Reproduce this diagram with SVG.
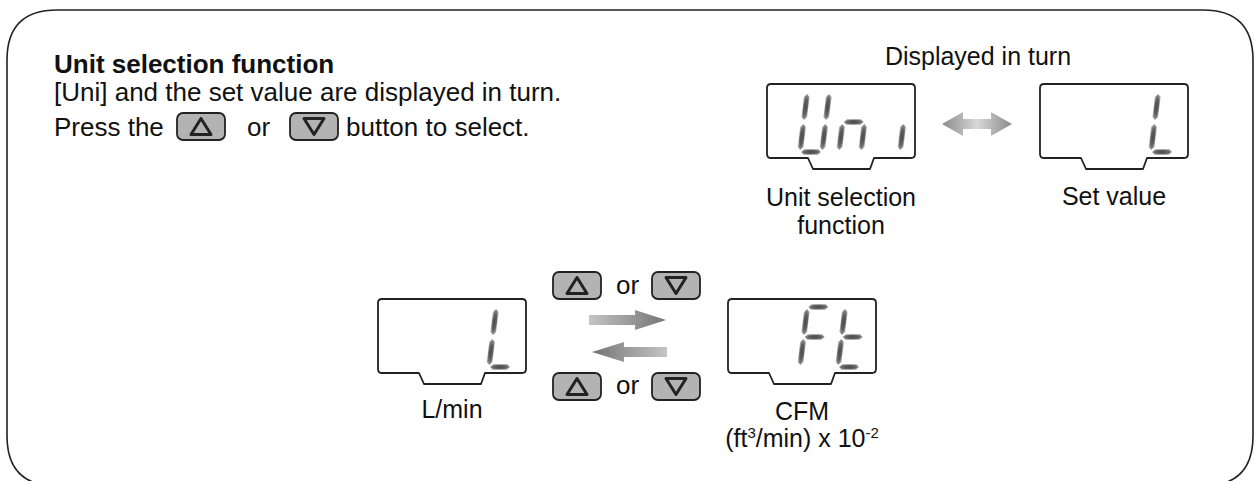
<svg xmlns="http://www.w3.org/2000/svg" width="1255" height="481" viewBox="0 0 1255 481">
<style>
text{font-family:"Liberation Sans",Arial,sans-serif;fill:#111}
.t{font-size:26px}
.b{font-weight:bold}
.lbl{font-size:25px;text-anchor:middle}
.frame{fill:none;stroke:#222;stroke-width:1.6}
.disp{fill:#fff;stroke:#222;stroke-width:1.8;stroke-linejoin:round}
.btn{fill:#b3b3b3;stroke:#222;stroke-width:1.8}
.tri{fill:none;stroke:#222;stroke-width:3;stroke-linejoin:round}
.seg{fill:url(#segG)}
</style>
<defs>
<radialGradient id="segG"><stop offset="0" stop-color="#4a4a4a"/><stop offset="0.65" stop-color="#626262"/><stop offset="1" stop-color="#9c9c9c"/></radialGradient>
<linearGradient id="dbl" x1="0" x2="1" y1="0" y2="0"><stop offset="0" stop-color="#8a8a8a"/><stop offset="0.5" stop-color="#d8d8d8"/><stop offset="1" stop-color="#8a8a8a"/></linearGradient>
<linearGradient id="rgt" x1="0" x2="1" y1="0" y2="0"><stop offset="0" stop-color="#c4c4c4"/><stop offset="1" stop-color="#747474"/></linearGradient>
<linearGradient id="lft" x1="0" x2="1" y1="0" y2="0"><stop offset="0" stop-color="#747474"/><stop offset="1" stop-color="#c4c4c4"/></linearGradient>
<polygon id="sa" class="seg" points="1,-60 4,-62.8 18,-62.8 21,-60 18,-57.2 4,-57.2"/>
<polygon id="sg" class="seg" points="1,-30 4,-32.8 18,-32.8 21,-30 18,-27.2 4,-27.2"/>
<polygon id="sd" class="seg" points="1,0 4,-2.8 18,-2.8 21,0 18,2.8 4,2.8"/>
<polygon id="sf" class="seg" points="0,-32 2.8,-35 2.8,-55 0,-58 -2.8,-55 -2.8,-35"/>
<polygon id="se" class="seg" points="0,-2 2.8,-5 2.8,-25 0,-28 -2.8,-25 -2.8,-5"/>
<polygon id="sb" class="seg" points="22,-32 24.8,-35 24.8,-55 22,-58 19.2,-55 19.2,-35"/>
<polygon id="sc" class="seg" points="22,-2 24.8,-5 24.8,-25 22,-28 19.2,-25 19.2,-5"/>
<path id="dispShape" class="disp" d="M4,0 H144 Q148,0 148,4 V70 Q148,74 144,74 H107 L103,85 H46 L41,74 H4 Q0,74 0,70 V4 Q0,0 4,0 Z"/>
<g id="btnUp"><rect class="btn" x="0" y="0" width="48" height="27" rx="6"/><path class="tri" d="M24,5.5 L34,21.5 H14 Z"/></g>
<g id="btnDn"><rect class="btn" x="0" y="0" width="48" height="27" rx="6"/><path class="tri" d="M24,21.5 L34,5.5 H14 Z"/></g>
</defs>

<path class="frame" d="M57,10 H1203 Q1253,10 1253,60 V436 Q1253,486 1203,486 H57 Q7,486 7,436 V60 Q7,10 57,10 Z"/>

<g id="intro">
<text class="t b" x="54" y="73">Unit selection function</text>
<text class="t" x="54" y="101">[Uni] and the set value are displayed in turn.</text>
<text class="t" x="54" y="136">Press the</text>
<use href="#btnUp" x="177" y="113"/>
<text class="t" x="247" y="136">or</text>
<use href="#btnDn" x="290" y="113"/>
<text class="t" x="346" y="136">button to select.</text>
</g>

<text id="turnLabel" class="lbl" x="978" y="65">Displayed in turn</text>

<g id="dispUni">
<use href="#dispShape" x="767" y="84"/>
<g transform="translate(800,152) skewX(-7)"><use href="#sb"/><use href="#sc"/><use href="#sd"/><use href="#se"/><use href="#sf"/></g>
<g transform="translate(839,152) skewX(-7)"><use href="#sc"/><use href="#se"/><use href="#sg"/></g>
<g transform="translate(878,152) skewX(-7)"><use href="#sc"/></g>
<text class="lbl" x="841" y="206">Unit selection</text>
<text class="lbl" x="841" y="234">function</text>
</g>

<g id="dispSet">
<use href="#dispShape" x="1040" y="84"/>
<g transform="translate(1151,152) skewX(-7)"><use href="#sd"/><use href="#se"/><use href="#sf"/></g>
<text class="lbl" x="1114" y="205">Set value</text>
</g>

<g id="dispL">
<use href="#dispShape" x="378" y="299"/>
<g transform="translate(489,367) skewX(-7)"><use href="#sd"/><use href="#se"/><use href="#sf"/></g>
<text class="lbl" x="452" y="418">L/min</text>
</g>

<g id="dispCFM">
<use href="#dispShape" x="728" y="299"/>
<g transform="translate(800,367) skewX(-7)"><use href="#sa"/><use href="#se"/><use href="#sf"/><use href="#sg"/></g>
<g transform="translate(838,367) skewX(-7)"><use href="#sd"/><use href="#se"/><use href="#sf"/><use href="#sg"/></g>
<text class="lbl" x="802" y="420">CFM</text>
<text class="lbl" x="802" y="447">(ft<tspan font-size="15" dy="-9">3</tspan><tspan dy="9">/min) x 10</tspan><tspan font-size="15" dy="-9">-2</tspan></text>
</g>

<g id="buttonsTop">
<use href="#btnUp" x="553" y="272"/>
<text class="t" x="616" y="294">or</text>
<use href="#btnDn" x="652" y="272"/>
</g>
<g id="buttonsBottom">
<use href="#btnUp" x="553" y="373"/>
<text class="t" x="616" y="394">or</text>
<use href="#btnDn" x="652" y="373"/>
</g>

<g id="connectors">
<path fill="url(#dbl)" d="M942,124 L963,112 V119 H991 V112 L1012,124 L991,136 V129 H963 V136 Z"/>
<path fill="url(#rgt)" d="M589,315 H635 V310 L666,320 L635,330 V325 H589 Z"/>
<path fill="url(#lft)" d="M592,352 L624,342 V347 H667 V357 H624 V362 Z"/>
</g>
</svg>
